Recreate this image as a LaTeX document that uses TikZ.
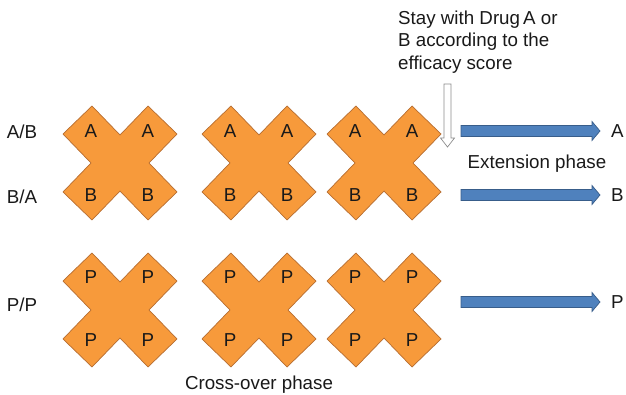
\documentclass[tikz,border=0pt]{standalone}
\usepackage{fontspec}
\setmainfont{Liberation Sans}
\definecolor{xorange}{HTML}{F79A3B}
\definecolor{xorangeline}{HTML}{B66D31}
\definecolor{xblue}{HTML}{4F81BD}
\definecolor{xblueline}{HTML}{385D8A}
\definecolor{xgray}{HTML}{8C8C8C}
\begin{document}
\begin{tikzpicture}[x=1pt,y=-1pt,
  every node/.style={font=\fontsize{18.75}{22.5}\selectfont, inner sep=0pt, text=black!90},
  xfill/.style={fill=xorange, draw=xorangeline, line width=0.7pt, line join=miter},
  bluearr/.style={fill=xblue, draw=xblueline, line width=0.7pt},
  hollowarr/.style={fill=white, draw=xgray, line width=0.7pt},
  crossx/.pic={\path[xfill] (0,-28)--(28,-57)--(57,-29)--(29,0)--(57,29)--(28,57)--(0,28)--(-28,57)--(-57,29)--(-29,0)--(-57,-29)--(-28,-57)--cycle;},
  bluepic/.pic={\path[bluearr] (0,-5.5)--(131,-5.5)--(131,-9.5)--(139,0)--(131,9.5)--(131,5.5)--(0,5.5)--cycle;}
]
\useasboundingbox (0,0) rectangle (626,395);

% crosses
\foreach \cx/\nm in {120/one,259/two,384/three}{
  \pic at (\cx,163) {crossx};
  \node (\nm-a1) at (\cx-29,131) {A};
  \node (\nm-a2) at (\cx+28,131) {A};
  \node (\nm-b1) at (\cx-29,195) {B};
  \node (\nm-b2) at (\cx+28,195) {B};
  \pic at (\cx,310) {crossx};
  \node (\nm-p1) at (\cx-29,277) {P};
  \node (\nm-p2) at (\cx+28,277) {P};
  \node (\nm-p3) at (\cx-29,340) {P};
  \node (\nm-p4) at (\cx+28,340) {P};
}

% row labels
\node (lab) at (22,132) {A/B};
\node (lba) at (22,197) {B/A};
\node (lpp) at (22,305) {P/P};

% blue arrows
\pic at (461,131) {bluepic};
\pic at (461,195) {bluepic};
\pic at (461,302) {bluepic};
\node[anchor=west] (ra) at (611,131) {A};
\node[anchor=west] (rb) at (611,195) {B};
\node[anchor=west] (rp) at (611,302) {P};

% hollow arrow
\path[hollowarr] (444,84)--(451,84)--(451,138)--(454.5,138)--(447.5,147)--(440.5,138)--(444,138)--cycle;

\node[anchor=west, align=left] (stay) at (398,42) {Stay with Drug\,A or\\B according to the\\efficacy score};
\node (ext) at (537,164) {Extension phase};
\node (cross) at (259,385) {Cross-over phase};
\end{tikzpicture}
\end{document}
